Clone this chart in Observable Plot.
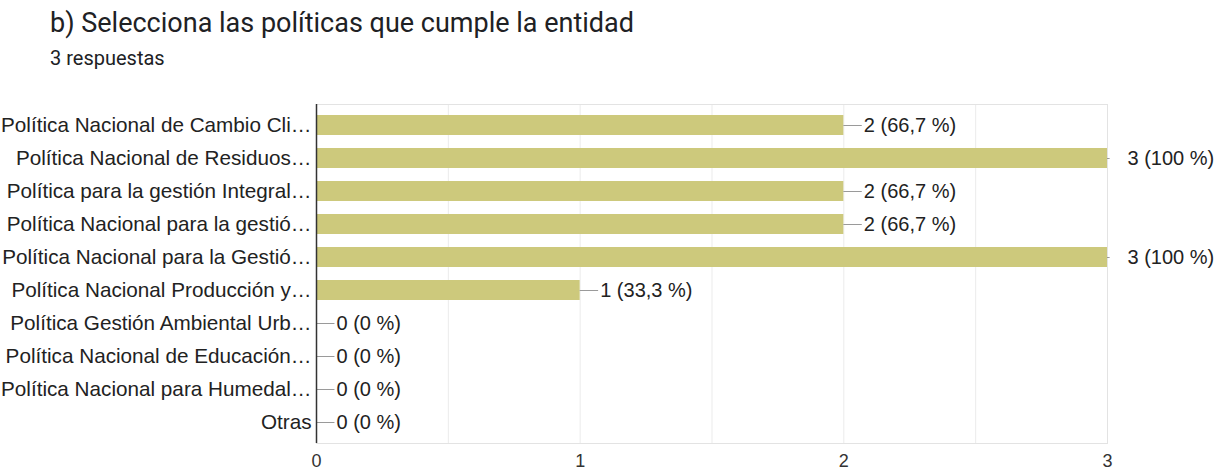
<!DOCTYPE html>
<html>
<head>
<meta charset="utf-8">
<script src="https://cdn.jsdelivr.net/npm/d3@7"></script>
<script src="https://cdn.jsdelivr.net/npm/@observablehq/plot@0.6"></script>
<style>
  html, body { margin: 0; padding: 0; background: #fff; overflow: hidden; }
  #wrap { position: relative; width: 1217px; height: 473px; }
  #title { position: absolute; left: 50px; top: 10px; font: 400 27px/1 Roboto, sans-serif; color: #202124; white-space: nowrap; }
  #subtitle { position: absolute; left: 50px; top: 48px; font: 400 20px/1 Roboto, sans-serif; color: #202124; white-space: nowrap; }
  #chart { position: absolute; left: 0; top: 80px; }
</style>
</head>
<body>
<div id="wrap">
  <div id="title">b) Selecciona las políticas que cumple la entidad</div>
  <div id="subtitle">3 respuestas</div>
  <div id="chart"></div>
</div>
<script>
const categories = [
  "Política Nacional de Cambio Cli…",
  "Política Nacional de Residuos…",
  "Política para la gestión Integral…",
  "Política Nacional para la gestió…",
  "Política Nacional para la Gestió…",
  "Política Nacional Producción y…",
  "Política Gestión Ambiental Urb…",
  "Política Nacional de Educación…",
  "Política Nacional para Humedal…",
  "Otras"
];
const counts = [2, 3, 2, 2, 3, 1, 0, 0, 0, 0];
const valueLabels = ["2 (66,7 %)", "3 (100 %)", "2 (66,7 %)", "2 (66,7 %)", "3 (100 %)", "1 (33,3 %)", "0 (0 %)", "0 (0 %)", "0 (0 %)", "0 (0 %)"];
const xTicks = [0, 1, 2, 3];
const gridLines = [0.5, 1, 1.5, 2, 2.5];
const totalMax = 3;

const data = categories.map((name, i) => ({name, value: counts[i], label: valueLabels[i]}));

const chartFont = "'Liberation Sans', Arial, sans-serif";

const plot = Plot.plot({
  width: 1217,
  height: 393,
  marginLeft: 316,
  marginRight: 110,
  marginTop: 24,
  marginBottom: 30,
  style: {fontFamily: chartFont, fontSize: "20px", color: "#222", background: "#fff"},
  x: {domain: [0, totalMax], axis: null},
  y: {domain: categories, paddingInner: 0.38, paddingOuter: 0.19, axis: null},
  marks: [
    Plot.gridX(gridLines, {stroke: "#ebebeb", strokeOpacity: 1}),
    Plot.frame({stroke: "#e3e3e3"}),
    Plot.barX(data, {y: "name", x1: 0, x2: "value", fill: "#cdc97c"}),
    Plot.ruleY(data, {y: "name", x1: "value", x2: d => Math.min(d.value + 0.07, totalMax + 0.01), stroke: "#9a9a9a", strokeWidth: 1}),
    Plot.text(data, {y: "name", x: "value", text: "label", dx: 20, textAnchor: "start", fill: "#222", fontSize: 20}),
    Plot.ruleX([0], {stroke: "#333", strokeWidth: 1.5}),
    Plot.axisY({tickSize: 0, tickPadding: 5, fontSize: 20.7, fill: "#222", label: null}),
    Plot.axisX(xTicks, {tickSize: 0, tickPadding: 11, fontSize: 18, fill: "#333", label: null, tickFormat: d3.format("d")})
  ]
});
document.getElementById("chart").appendChild(plot);
</script>
</body>
</html>
